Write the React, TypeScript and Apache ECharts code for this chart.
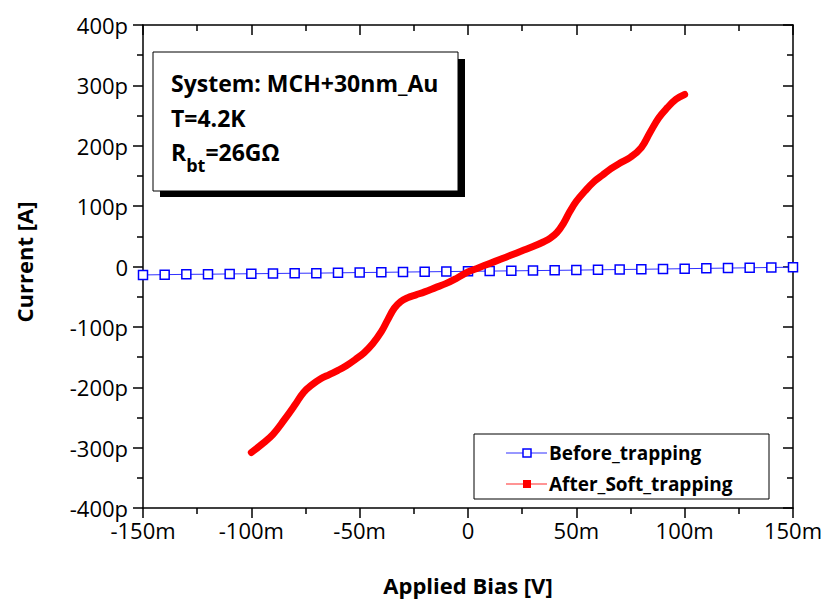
import React, { useEffect, useRef } from "react";
import * as echarts from "echarts";

// Before_trapping: bias in mV, current in pA
const beforeV = [-150, -140, -130, -120, -110, -100, -90, -80, -70, -60, -50, -40, -30, -20, -10, 0, 10, 20, 30, 40, 50, 60, 70, 80, 90, 100, 110, 120, 130, 140, 150];
const beforeI = [-14, -13.5, -13, -12.8, -12.3, -12, -11.6, -11.2, -11, -10.5, -10, -9.7, -9.2, -8.8, -8.4, -8, -7.6, -7.2, -6.8, -6.4, -6, -5.5, -5, -4.6, -4.1, -3.6, -3.1, -2.6, -2.1, -1.6, -1.2];

// After_Soft_trapping
const afterV = [-100, -95, -90, -85, -80, -76, -72, -68, -64, -60, -56, -52, -48, -44, -40, -37, -34, -31, -28, -24, -20, -15, -10, -5, 0, 5, 10, 15, 20, 25, 30, 35, 38, 41, 44, 47, 50, 54, 58, 62, 66, 70, 75, 80, 84, 88, 92, 96, 100];
const afterI = [-308, -294, -278, -255, -230, -209, -196, -186, -179, -172, -164, -154, -143, -128, -108, -88, -69, -58, -52, -47, -42, -35, -28, -19, -9, -2, 5, 12, 19, 26, 33, 41, 47, 56, 71, 91, 108, 125, 140, 151, 162, 171, 181, 197, 222, 246, 263, 277, 285];

const xTicks = { min: -150, max: 150, interval: 50 };
const yTicks = { min: -400, max: 400, interval: 100 };

const seriesNames = ["Before_trapping", "After_Soft_trapping"];
const infoLines = ["System: MCH+30nm_Au", "T=4.2K"];

const FONT = "Open Sans";

export default function App() {
  const ref = useRef<HTMLDivElement>(null);
  useEffect(() => {
    if (!ref.current) return;
    const chart = echarts.init(ref.current, null, { renderer: "svg" });
    const axisLine = { show: true, onZero: false, lineStyle: { color: "#000", width: 1.5 } };
    const tickStyle = { color: "#000", width: 1.5 };
    const xLabel = (v: number) => (v === 0 ? "0" : v + "m");
    const yLabel = (v: number) => (v === 0 ? "0" : v + "p");
    chart.setOption({
      animation: false,
      backgroundColor: "#fff",
      grid: { left: 143, right: 33, top: 25, bottom: 93, containLabel: false },
      xAxis: [
        {
          type: "value", position: "bottom", ...xTicks,
          axisLine, splitLine: { show: false },
          axisTick: { show: true, inside: false, length: 10, lineStyle: tickStyle },
          minorTick: { show: true, splitNumber: 2, length: 6, lineStyle: tickStyle },
          axisLabel: { formatter: xLabel, fontFamily: FONT, fontSize: 22, color: "#000", margin: 11 },
        },
        {
          type: "value", position: "top", ...xTicks,
          axisLine, splitLine: { show: false },
          axisTick: { show: true, inside: true, length: 10, lineStyle: tickStyle },
          minorTick: { show: true, splitNumber: 2, length: 6, lineStyle: tickStyle },
          axisLabel: { show: false },
        },
      ],
      yAxis: [
        {
          type: "value", position: "left", ...yTicks,
          axisLine, splitLine: { show: false },
          axisTick: { show: true, inside: false, length: 10, lineStyle: tickStyle },
          minorTick: { show: true, splitNumber: 2, length: 6, lineStyle: tickStyle },
          axisLabel: { formatter: yLabel, fontFamily: FONT, fontSize: 22, color: "#000", margin: 15 },
        },
        {
          type: "value", position: "right", ...yTicks,
          axisLine, splitLine: { show: false },
          axisTick: { show: true, inside: true, length: 10, lineStyle: tickStyle },
          minorTick: { show: true, splitNumber: 2, length: 6, lineStyle: tickStyle },
          axisLabel: { show: false },
        },
      ],
      series: [
        {
          name: seriesNames[0], type: "line", xAxisIndex: 0, yAxisIndex: 0,
          data: beforeV.map((v, i) => [v, beforeI[i]]),
          symbol: "rect", symbolSize: 9, showSymbol: true,
          lineStyle: { color: "#3030ff", width: 1 },
          itemStyle: { color: "#fff", borderColor: "#0000ff", borderWidth: 1.5 },
          z: 2,
        },
        {
          name: seriesNames[1], type: "line", xAxisIndex: 0, yAxisIndex: 0,
          data: afterV.map((v, i) => [v, afterI[i]]),
          symbol: "none", smooth: 0.4,
          lineStyle: { color: "#ff0000", width: 7, cap: "round", join: "round" },
          z: 3,
        },
      ],
      graphic: [
        // info box shadow + box
        { type: "rect", shape: { x: 160, y: 59, width: 305, height: 138 }, style: { fill: "#000" }, z: 10 },
        { type: "rect", shape: { x: 153, y: 52, width: 305, height: 139 }, style: { fill: "#fff", stroke: "#000", lineWidth: 1 }, z: 11 },
        { type: "text", x: 171, y: 83, style: { text: infoLines[0], font: `bold 23px "${FONT}"`, fill: "#000", verticalAlign: "middle" }, z: 12 },
        { type: "text", x: 171, y: 118, style: { text: infoLines[1], font: `bold 23px "${FONT}"`, fill: "#000", verticalAlign: "middle" }, z: 12 },
        {
          type: "text", x: 171, y: 157, z: 12,
          style: {
            text: "{n|R}{s|bt}{n|=26GΩ}",
            verticalAlign: "middle",
            rich: {
              n: { fontFamily: FONT, fontWeight: "bold", fontSize: 23, fill: "#000", color: "#000", lineHeight: 34, verticalAlign: "top" },
              s: { fontFamily: FONT, fontWeight: "bold", fontSize: 18, fill: "#000", color: "#000", lineHeight: 34, verticalAlign: "bottom", padding: [10, 0, 0, 0] },
            },
          },
        },
        // legend
        { type: "rect", shape: { x: 474, y: 434, width: 295, height: 65 }, style: { fill: "#fff", stroke: "#000", lineWidth: 1 }, z: 10 },
        { type: "line", shape: { x1: 506, y1: 453, x2: 547, y2: 453 }, style: { stroke: "#3030ff", lineWidth: 1 }, z: 11 },
        { type: "rect", shape: { x: 523, y: 449, width: 8, height: 8 }, style: { fill: "#fff", stroke: "#0000ff", lineWidth: 1.5 }, z: 12 },
        { type: "text", x: 549, y: 453, style: { text: seriesNames[0], font: `bold 19px "${FONT}"`, fill: "#000", verticalAlign: "middle" }, z: 12 },
        { type: "line", shape: { x1: 506, y1: 484, x2: 547, y2: 484 }, style: { stroke: "#ff7070", lineWidth: 1.5 }, z: 11 },
        { type: "rect", shape: { x: 523, y: 480, width: 8, height: 8 }, style: { fill: "#ff0000" }, z: 12 },
        { type: "text", x: 549, y: 484, style: { text: seriesNames[1], font: `bold 19px "${FONT}"`, fill: "#000", verticalAlign: "middle" }, z: 12 },
        // axis titles
        { type: "text", x: 468, y: 585, style: { text: "Applied Bias [V]", font: `bold 22px "${FONT}"`, fill: "#000", align: "center", verticalAlign: "middle" }, z: 12 },
        { type: "text", x: 24, y: 262, rotation: Math.PI / 2, style: { text: "Current [A]", font: `bold 22px "${FONT}"`, fill: "#000", align: "center", verticalAlign: "middle" }, z: 12 },
      ],
    });
    return () => chart.dispose();
  }, []);
  return <div ref={ref} style={{ width: 826, height: 601, position: "absolute", left: 0, top: 0 }} />;
}
